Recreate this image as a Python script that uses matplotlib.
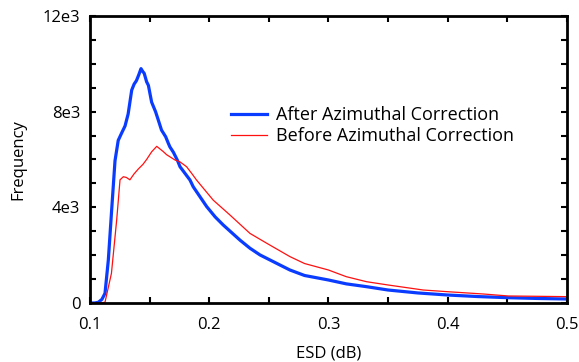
import matplotlib
matplotlib.use("Agg")
import matplotlib.pyplot as plt
from matplotlib.ticker import MultipleLocator, FixedLocator, FixedFormatter

plt.rcParams['font.family'] = ['Open Sans', 'DejaVu Sans']

# ESD histogram after azimuthal correction
after_esd = [0.100, 0.104, 0.107, 0.110, 0.1126, 0.1154, 0.1182, 0.121, 0.1237,
             0.1265, 0.1294, 0.132, 0.1335, 0.135, 0.137, 0.139, 0.141, 0.1428,
             0.144, 0.1455, 0.1475, 0.149, 0.1517, 0.155, 0.1573, 0.160, 0.1635,
             0.1657, 0.167, 0.170, 0.1735, 0.1755, 0.1797, 0.1839, 0.1866, 0.1979,
             0.205, 0.2118, 0.2258, 0.2342, 0.2426, 0.2593, 0.2677, 0.280, 0.300,
             0.315, 0.332, 0.350, 0.375, 0.400, 0.425, 0.450, 0.475, 0.500]
after_freq = [0, 0, 30, 150, 405, 1800, 3900, 5950, 6800,
              7100, 7400, 7900, 8400, 8900, 9150, 9300, 9550, 9800,
              9700, 9600, 9250, 9100, 8400, 8000, 7650, 7230, 6950,
              6680, 6530, 6300, 5950, 5700, 5420, 5140, 4860, 4030,
              3600, 3260, 2630, 2290, 2010, 1590, 1380, 1150, 962,
              800, 682, 543, 420, 334, 270, 223, 190, 167]

# ESD histogram before azimuthal correction
before_esd = [0.100, 0.108, 0.1126, 0.118, 0.1224, 0.1252, 0.128, 0.1305, 0.1335,
              0.137, 0.1405, 0.1445, 0.1475, 0.1517, 0.156, 0.1585, 0.1615, 0.1643,
              0.1713, 0.1755, 0.181, 0.1853, 0.1894, 0.2034, 0.2174, 0.2342, 0.2482,
              0.2677, 0.280, 0.300, 0.315, 0.332, 0.350, 0.3795, 0.400, 0.430,
              0.451, 0.475, 0.500]
before_freq = [0, 0, 30, 1240, 3470, 5150, 5280, 5250, 5150,
               5400, 5600, 5800, 6000, 6320, 6550, 6450, 6330, 6200,
               5980, 5900, 5700, 5420, 5140, 4300, 3680, 2910, 2500,
               1940, 1650, 1380, 1100, 890, 753, 543, 472, 376,
               293, 280, 265]

x_ticks = [0.1, 0.2, 0.3, 0.4, 0.5]
x_tick_labels = ["0.1", "0.2", "0.3", "0.4", "0.5"]
y_ticks = [0, 4000, 8000, 12000]
y_tick_labels = ["0", "4e3", "8e3", "12e3"]

fig = plt.figure(figsize=(5.79, 3.62), dpi=100)
ax = fig.add_axes([0.1554, 0.163, 0.8236, 0.7928])

ax.plot(after_esd, after_freq, color="#0a3cff", lw=2.3,
        label="After Azimuthal Correction")
ax.plot(before_esd, before_freq, color="#ff1010", lw=0.9,
        label="Before Azimuthal Correction")

ax.set_xlim(0.1, 0.5)
ax.set_ylim(0, 12000)
ax.xaxis.set_major_locator(FixedLocator(x_ticks))
ax.xaxis.set_major_formatter(FixedFormatter(x_tick_labels))
ax.xaxis.set_minor_locator(MultipleLocator(0.05))
ax.yaxis.set_major_locator(FixedLocator(y_ticks))
ax.yaxis.set_major_formatter(FixedFormatter(y_tick_labels))
ax.yaxis.set_minor_locator(MultipleLocator(1000))

ax.tick_params(which="both", direction="in", top=True, right=True,
               length=4, width=1.5, labelsize=12)
ax.tick_params(axis="x", which="both", pad=10)
ax.tick_params(axis="y", which="both", pad=7)
for s in ax.spines.values():
    s.set_linewidth(2)

ax.set_xlabel("ESD (dB)", fontsize=12, labelpad=9)
ax.set_ylabel("Frequency", fontsize=12, labelpad=12)

ax.legend(loc="upper left", bbox_to_anchor=(0.28, 0.71), frameon=False,
          fontsize=13, handlelength=2.0, handletextpad=0.5, labelspacing=0.15,
          borderaxespad=0)

fig.savefig("out.png", dpi=100)
